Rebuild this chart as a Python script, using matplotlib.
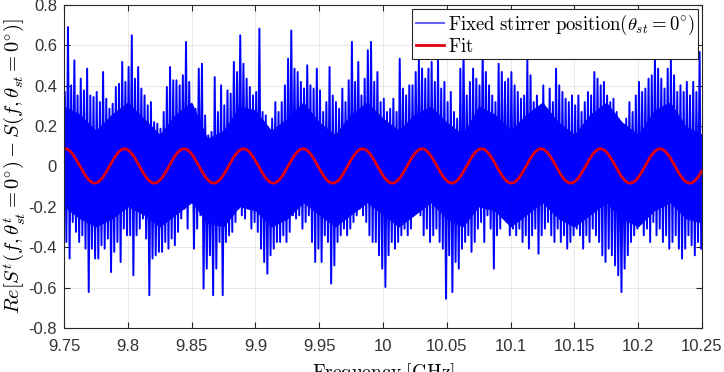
import numpy as np
import matplotlib
matplotlib.use('Agg')
import matplotlib.pyplot as plt

plt.rcParams['mathtext.fontset'] = 'cm'
plt.rcParams['axes.unicode_minus'] = False
plt.rcParams['font.family'] = 'Liberation Sans'

#
### data read off the picture: max / min of the measured trace in 0.0025 GHz bins
#
f_start = 9.75
f_stop = 10.25
bin_width = 0.0025

upper = [0.369, 0.691, 0.402, 0.526, 0.352, 0.435, 0.377, 0.485, 0.352, 0.344,
         0.369, 0.319, 0.468, 0.336, 0.286, 0.311, 0.394, 0.410, 0.518, 0.419,
         0.493, 0.650, 0.435, 0.493, 0.386, 0.352, 0.303, 0.319, 0.220, 0.212,
         0.187, 0.270, 0.394, 0.493, 0.427, 0.427, 0.402, 0.452, 0.617, 0.419,
         0.303, 0.286, 0.485, 0.509, 0.253, 0.154, 0.171, 0.443, 0.270, 0.402,
         0.303, 0.377, 0.361, 0.518, 0.468, 0.650, 0.509, 0.435, 0.394, 0.352,
         0.369, 0.683, 0.270, 0.253, 0.171, 0.237, 0.319, 0.270, 0.319, 0.402,
         0.534, 0.674, 0.485, 0.468, 0.419, 0.386, 0.501, 0.402, 0.386, 0.485,
         0.377, 0.270, 0.319, 0.493, 0.352, 0.319, 0.286, 0.386, 0.319, 0.427,
         0.617, 0.419, 0.518, 0.352, 0.435, 0.576, 0.617, 0.419, 0.468, 0.319,
         0.336, 0.270, 0.286, 0.336, 0.270, 0.534, 0.386, 0.352, 0.402, 0.402,
         0.468, 0.534, 0.485, 0.435, 0.485, 0.518, 0.419, 0.534, 0.386, 0.419,
         0.319, 0.369, 0.270, 0.237, 0.485, 0.600, 0.352, 0.419, 0.485, 0.435,
         0.402, 0.600, 0.468, 0.402, 0.352, 0.319, 0.509, 0.468, 0.419, 0.435,
         0.468, 0.402, 0.369, 0.336, 0.352, 0.526, 0.452, 0.319, 0.352, 0.286,
         0.402, 0.270, 0.386, 0.319, 0.485, 0.402, 0.369, 0.336, 0.319, 0.352,
         0.303, 0.352, 0.270, 0.319, 0.369, 0.352, 0.468, 0.435, 0.402, 0.419,
         0.352, 0.319, 0.336, 0.270, 0.220, 0.187, 0.237, 0.319, 0.270, 0.352,
         0.419, 0.369, 0.386, 0.435, 0.452, 0.550, 0.485, 0.435, 0.386, 0.485,
         0.534, 0.452, 0.369, 0.402, 0.369, 0.419, 0.352, 0.419, 0.369, 0.567]

lower = [-0.374, -0.456, -0.275, -0.324, -0.374, -0.341, -0.407, -0.622, -0.407, -0.456,
         -0.456, -0.390, -0.407, -0.357, -0.523, -0.423, -0.374, -0.473, -0.308, -0.341,
         -0.341, -0.539, -0.341, -0.308, -0.258, -0.357, -0.638, -0.456, -0.440, -0.423,
         -0.423, -0.374, -0.407, -0.357, -0.390, -0.324, -0.258, -0.209, -0.308, -0.176,
         -0.407, -0.308, -0.242, -0.605, -0.506, -0.440, -0.638, -0.506, -0.374, -0.638,
         -0.374, -0.341, -0.324, -0.275, -0.209, -0.242, -0.258, -0.209, -0.308, -0.275,
         -0.324, -0.407, -0.473, -0.531, -0.440, -0.407, -0.374, -0.374, -0.341, -0.374,
         -0.324, -0.242, -0.258, -0.242, -0.308, -0.275, -0.242, -0.374, -0.473, -0.407,
         -0.473, -0.341, -0.374, -0.580, -0.490, -0.374, -0.341, -0.308, -0.341, -0.308,
         -0.275, -0.242, -0.209, -0.242, -0.275, -0.341, -0.374, -0.374, -0.440, -0.506,
         -0.597, -0.440, -0.374, -0.407, -0.374, -0.341, -0.308, -0.341, -0.308, -0.242,
         -0.209, -0.242, -0.341, -0.308, -0.374, -0.341, -0.308, -0.374, -0.407, -0.655,
         -0.440, -0.622, -0.473, -0.506, -0.407, -0.374, -0.341, -0.423, -0.374, -0.308,
         -0.275, -0.374, -0.242, -0.308, -0.506, -0.341, -0.308, -0.242, -0.275, -0.341,
         -0.308, -0.341, -0.308, -0.374, -0.341, -0.407, -0.341, -0.308, -0.432, -0.341,
         -0.308, -0.275, -0.341, -0.374, -0.308, -0.374, -0.341, -0.407, -0.374, -0.341,
         -0.308, -0.341, -0.407, -0.341, -0.374, -0.308, -0.341, -0.374, -0.440, -0.473,
         -0.407, -0.440, -0.490, -0.539, -0.622, -0.506, -0.440, -0.374, -0.341, -0.308,
         -0.275, -0.341, -0.308, -0.374, -0.275, -0.341, -0.308, -0.374, -0.341, -0.407,
         -0.374, -0.341, -0.407, -0.456, -0.407, -0.341, -0.390, -0.440, -0.374, -0.407]

# extent of the solid (saturated) core of the trace, every 0.0125 GHz
core_step = 0.0125
core_hi = [0.30, 0.26, 0.18, 0.26, 0.32, 0.24, 0.16, 0.26, 0.32, 0.14,
           0.18, 0.30, 0.28, 0.18, 0.24, 0.32, 0.22, 0.16, 0.26, 0.32,
           0.24, 0.18, 0.26, 0.30, 0.22, 0.16, 0.30, 0.26, 0.18, 0.26,
           0.32, 0.22, 0.16, 0.26, 0.32, 0.22, 0.16, 0.28, 0.32, 0.20,
           0.16]
core_lo = [-0.20, -0.26, -0.30, -0.26, -0.20, -0.24, -0.30, -0.24, -0.18, -0.28,
           -0.30, -0.20, -0.22, -0.30, -0.26, -0.18, -0.24, -0.30, -0.24, -0.18,
           -0.24, -0.30, -0.24, -0.18, -0.26, -0.30, -0.20, -0.22, -0.30, -0.24,
           -0.18, -0.26, -0.30, -0.24, -0.18, -0.26, -0.30, -0.22, -0.18, -0.26,
           -0.28]

# sinusoidal fit, parameters
fit_amp = 0.085
fit_offset = 0.0025
fit_period = 0.04663   # GHz
fit_peak = 9.7508      # GHz, first maximum

xticks = [9.75, 9.8, 9.85, 9.9, 9.95, 10, 10.05, 10.1, 10.15, 10.2, 10.25]
yticks = [-0.8, -0.6, -0.4, -0.2, 0, 0.2, 0.4, 0.6, 0.8]

# interleave max/min of every bin -> one dense trace
k = np.arange(len(upper))
f_hi = f_start + (k + 0.25) * bin_width
f_lo = f_start + (k + 0.75) * bin_width
freq = np.column_stack([f_hi, f_lo]).ravel()
trace = np.column_stack([upper, lower]).ravel()
f_core = f_start + np.arange(len(core_hi)) * core_step

f_fit = np.linspace(f_start, f_stop, 1200)
y_fit = fit_offset + fit_amp * np.cos(2 * np.pi * (f_fit - fit_peak) / fit_period)

#
### plotting
#
fig = plt.figure(figsize=(7.24, 3.72), dpi=100)
ax = fig.add_axes([0.0884, 0.1183, 0.8812, 0.8683])

blue = (0, 0, 1)
ax.fill_between(f_core, core_lo, core_hi, color=blue, lw=0)
line, = ax.plot(freq, trace, color=blue, lw=1.4)
fit, = ax.plot(f_fit, y_fit, color=(0.88, 0, 0.05), lw=2.0)

ax.set_xlim(f_start, f_stop)
ax.set_ylim(-0.8, 0.8)
ax.set_xticks(xticks)
ax.set_xticklabels(['%g' % t for t in xticks])
ax.set_yticks(yticks)
ax.set_yticklabels(['%g' % t for t in yticks])

gray = '#262626'
for s in ax.spines.values():
    s.set_color(gray)
    s.set_linewidth(0.8)
ax.tick_params(direction='in', top=True, right=True, length=4, width=0.8,
               colors=gray, labelsize=12, labelcolor='#333333')
ax.tick_params(axis='x', pad=8)
ax.tick_params(axis='y', pad=5)
ax.grid(True, color='#262626', alpha=0.12, lw=0.6)

ax.set_xlabel(r'$\mathrm{Frequency\ [GHz]}$', fontsize=14, labelpad=5)
ax.set_ylabel(r'$Re[S^t(f,\theta^t_{st}=0^{\circ})-S(f,\theta_{st}=0^{\circ})]$',
              fontsize=14.8, labelpad=1)

# legend line of the trace is drawn lighter, as in the source figure
h_trace = plt.Line2D([], [], color=blue, lw=1.5, alpha=0.6)
leg = ax.legend([h_trace, fit],
                [r'$\mathrm{Fixed\ stirrer\ position}(\theta_{st}=0^{\circ})$', r'$\mathrm{Fit}$'],
                loc='upper right', fontsize=13.5, fancybox=False, framealpha=1,
                edgecolor=gray, borderaxespad=0.2, handlelength=1.5,
                handletextpad=0.2, labelspacing=0.05, borderpad=0.2)
leg.get_frame().set_linewidth(0.8)
leg.set_zorder(10)

plt.savefig('out.png', dpi=100)
